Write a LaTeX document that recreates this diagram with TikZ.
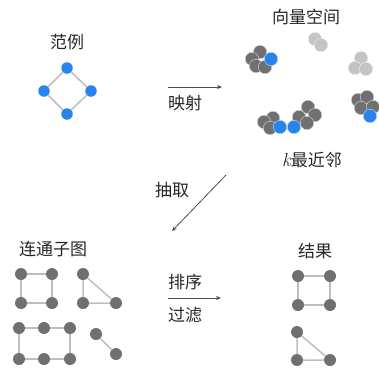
\documentclass[tikz,border=0pt]{standalone}
\usepackage{fontspec}
\newfontfamily\cjk{Noto Sans CJK SC}
\usetikzlibrary{arrows.meta}
\definecolor{myblue}{RGB}{40,132,232}
\definecolor{dgray}{RGB}{112,112,112}
\definecolor{lgray}{RGB}{196,196,196}
\definecolor{egray}{RGB}{190,190,190}
\tikzset{
  bdot/.style={circle, fill=myblue, minimum size=11.5pt, inner sep=0pt},
  gdot/.style={circle, fill=dgray, minimum size=12pt, inner sep=0pt},
  cdot/.style={circle, fill=dgray, draw=white!70!dgray, line width=0.4pt, minimum size=13.5pt, inner sep=0pt},
  cblue/.style={circle, fill=myblue, draw=white!70!myblue, line width=0.4pt, minimum size=13.5pt, inner sep=0pt},
  clight/.style={circle, fill=lgray, draw=white!70!lgray, line width=0.4pt, minimum size=13.5pt, inner sep=0pt},
  edge/.style={draw=egray, line width=1.5pt},
  lbl/.style={font=\cjk\fontsize{17}{19}\selectfont, text=black!85, inner sep=0pt},
  arr/.style={-{Stealth[length=5pt,width=4pt]}, line width=0.8pt, draw=black!70}
}
\begin{document}
\begin{tikzpicture}[x=1pt,y=-1pt]
\useasboundingbox (0,0) rectangle (379,370);
% Example
\node[lbl] (tex) at (67,42) {范例};
\node[bdot] (e1) at (67,68) {};
\node[bdot] (e2) at (44,91) {};
\node[bdot] (e3) at (91,91) {};
\node[bdot] (e4) at (67,114) {};
\draw[edge] (e1) -- (e2) (e1) -- (e3) (e2) -- (e4) (e3) -- (e4);
% mapping arrow
\coordinate (m1) at (168,87);
\coordinate (m2) at (222,87);
\draw[arr] (m1) -- (m2);
\node[lbl] (tmap) at (185,103) {映射};
% vector space
\node[lbl] (tvs) at (306,17) {向量空间};
% light clusters
\node[clight] (l1) at (315,39) {};
\node[clight] (l2) at (321,45) {};
\node[clight] (l3) at (361,58) {};
\node[clight] (l4) at (355,68) {};
\node[clight] (l5) at (366,69) {};
% cluster 1
\node[cdot] (a1) at (260,52) {};
\node[cdot] (a2) at (252,59) {};
\node[cdot] (a3) at (256,66) {};
\node[cdot] (a4) at (265,67) {};
\node[cblue] (a5) at (271,59) {};
% cluster bottom left
\node[cdot] (b1) at (273,118) {};
\node[cdot] (b2) at (264,122) {};
\node[cdot] (b3) at (270,128) {};
\node[cblue] (b4) at (280,127) {};
% cluster bottom middle
\node[cdot] (c1) at (308,107) {};
\node[cdot] (c2) at (299,117) {};
\node[cdot] (c3) at (315,115) {};
\node[cdot] (c4) at (307,123) {};
\node[cblue] (c5) at (294,127) {};
% cluster right
\node[cdot] (d1) at (358,100) {};
\node[cdot] (d2) at (367,97) {};
\node[cdot] (d3) at (361,108) {};
\node[cdot] (d4) at (373,107) {};
\node[cblue] (d5) at (370,116) {};
\node[lbl] (tknn) at (312,160) {{\fontspec{Latin Modern Roman}\fontsize{19}{19}\selectfont\itshape k}最近邻};
% extraction arrow
\coordinate (x1) at (226,175);
\coordinate (x2) at (172,231);
\draw[arr] (x1) -- (x2);
\node[lbl] (tex2) at (172,190) {抽取};
% connected subgraphs
\node[lbl] (tcc) at (53,249) {连通子图};
\node[gdot] (s1) at (21,274) {};
\node[gdot] (s2) at (52,274) {};
\node[gdot] (s3) at (21,303) {};
\node[gdot] (s4) at (52,303) {};
\draw[edge] (s1) -- (s2) -- (s4) -- (s3) -- (s1);
\node[gdot] (t1) at (83,274) {};
\node[gdot] (t2) at (83,303) {};
\node[gdot] (t3) at (116,303) {};
\draw[edge] (t1) -- (t2) -- (t3) -- (t1);
\node[gdot] (r1) at (19,328) {};
\node[gdot] (r2) at (44,328) {};
\node[gdot] (r3) at (70,328) {};
\node[gdot] (r4) at (19,359) {};
\node[gdot] (r5) at (44,359) {};
\node[gdot] (r6) at (70,359) {};
\draw[edge] (r1) -- (r2) -- (r3) -- (r6) -- (r5) -- (r4) -- (r1);
\node[gdot] (p1) at (96,334) {};
\node[gdot] (p2) at (116,354) {};
\draw[edge] (p1) -- (p2);
% sort filter arrow
\coordinate (f1) at (168,298);
\coordinate (f2) at (221,298);
\draw[arr] (f1) -- (f2);
\node[lbl] (tsort) at (185,282) {排序};
\node[lbl] (tfilt) at (185,315) {过滤};
% results
\node[lbl] (tres) at (315,251) {结果};
\node[gdot] (q1) at (298,276) {};
\node[gdot] (q2) at (330,276) {};
\node[gdot] (q3) at (298,305) {};
\node[gdot] (q4) at (330,305) {};
\draw[edge] (q1) -- (q2) -- (q4) -- (q3) -- (q1);
\node[gdot] (u1) at (297,332) {};
\node[gdot] (u2) at (297,360) {};
\node[gdot] (u3) at (330,360) {};
\draw[edge] (u1) -- (u2) -- (u3) -- (u1);
\end{tikzpicture}
\end{document}
